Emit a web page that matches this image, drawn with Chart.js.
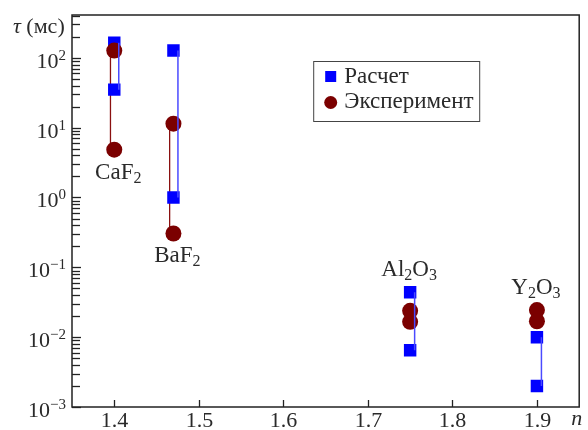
<!DOCTYPE html>
<html><head><meta charset="utf-8">
<script src="https://cdn.jsdelivr.net/npm/chart.js@4/dist/chart.umd.min.js"></script>
<style>html,body{margin:0;padding:0;background:#fff}#wrap{width:588px;height:430px;position:relative}</style>
</head><body><div id="wrap"><canvas id="c" width="588" height="430"></canvas></div>
<script>
// ---- data ----
const materials = [['Ca','F','2'], ['Ba','F','2'], ['Al','2','O','3'], ['Y','2','O','3']];
const materialNames = ['CaF2', 'BaF2', 'Al2O3', 'Y2O3'];
const refractiveIndex = [1.40, 1.47, 1.75, 1.90];
const calcHigh = [164, 127, 0.044, 0.010];
const calcLow = [35, 1.0, 0.0065, 0.002];
const expHigh = [127, 11.4, 0.0238, 0.0244];
const expLow = [4.84, 0.305, 0.0166, 0.0169];
const xTicks = [1.4, 1.5, 1.6, 1.7, 1.8, 1.9];
const yDecades = [-3, -2, -1, 0, 1, 2];
const seriesNames = ['Расчет', 'Эксперимент'];
const labelSide = ['below', 'below', 'above', 'above'];

const BLUE = '#0000ff', RED = '#7b0000';
const FONT = '"Liberation Serif", "DejaVu Serif", serif';
const TXT = '#2a2a2a';

const datasets = [];
// blue connector lines (top)
refractiveIndex.forEach((n, i) => datasets.push({
  type: 'line', data: [{x: n, y: calcHigh[i]}, {x: n, y: calcLow[i]}],
  borderColor: '#4a4aff', borderWidth: 1.5, pointRadius: 0, dx: 4.5, order: 0
}));
datasets.push({
  type: 'scatter', label: seriesNames[1],
  data: refractiveIndex.flatMap((n, i) => [{x: n, y: expHigh[i]}, {x: n, y: expLow[i]}]),
  pointStyle: 'circle', pointRadius: 8, backgroundColor: RED, borderColor: RED, borderWidth: 0, order: 1
});
datasets.push({
  type: 'scatter', label: seriesNames[0],
  data: refractiveIndex.flatMap((n, i) => [{x: n, y: calcHigh[i]}, {x: n, y: calcLow[i]}]),
  pointStyle: 'rect', pointRadius: 8.8, backgroundColor: BLUE, borderColor: BLUE, borderWidth: 0, order: 2
});
refractiveIndex.forEach((n, i) => datasets.push({
  type: 'line', data: [{x: n, y: expHigh[i]}, {x: n, y: expLow[i]}],
  borderColor: '#8a1010', borderWidth: 1.3, pointRadius: 0, dx: -3.8, order: 3
}));

function drawRich(ctx, parts, x, y, align, size, small, supOff) {
  small = small || Math.round(size * 0.68);
  supOff = supOff || 7;
  const w = parts.map(p => { ctx.font = (p.it ? 'italic ' : '') + (p.sub || p.sup ? small : size) + 'px ' + FONT; return ctx.measureText(p.t).width; });
  const total = w.reduce((a, b) => a + b, 0);
  let cx = align === 'center' ? x - total / 2 : align === 'right' ? x - total : x;
  ctx.textAlign = 'left'; ctx.textBaseline = 'alphabetic';
  parts.forEach((p, k) => {
    ctx.font = (p.it ? 'italic ' : '') + (p.sub || p.sup ? small : size) + 'px ' + FONT;
    ctx.fillText(p.t, cx, y + (p.sub ? 4 : p.sup ? -supOff : 0));
    cx += w[k];
  });
}

const decor = {
  id: 'decor',
  beforeDatasetDraw(chart, args) {
    const ds = chart.data.datasets[args.index];
    if (ds.dx) { chart.ctx.save(); chart.ctx.translate(ds.dx, 0); }
  },
  afterDatasetDraw(chart, args) {
    const ds = chart.data.datasets[args.index];
    if (ds.dx) chart.ctx.restore();
  },
  afterDraw(chart) {
    const {ctx, chartArea: a, scales: {x, y}} = chart;
    ctx.save();
    ctx.strokeStyle = '#222'; ctx.lineWidth = 1.5;
    ctx.strokeRect(a.left, a.top, a.right - a.left, a.bottom - a.top);
    ctx.lineWidth = 1.3;
    // x ticks
    ctx.fillStyle = TXT;
    xTicks.forEach(v => {
      const px = Math.round(x.getPixelForValue(v)) + 0.5;
      ctx.beginPath(); ctx.moveTo(px, a.bottom); ctx.lineTo(px, a.bottom - 7); ctx.stroke();
      ctx.font = '22px ' + FONT; ctx.textAlign = 'center'; ctx.textBaseline = 'alphabetic';
      ctx.fillText(v.toFixed(1), px, a.bottom + 20);
    });
    ctx.font = 'italic 22px ' + FONT; ctx.textAlign = 'left';
    ctx.fillText('n', a.right - 8, a.bottom + 18);
    // y ticks
    yDecades.forEach(d => {
      for (let m = 1; m <= 9; m++) {
        const v = m * Math.pow(10, d);
        if (v < y.min || v > y.max) continue;
        const py = Math.round(y.getPixelForValue(v)) + 0.5;
        ctx.beginPath(); ctx.moveTo(a.left, py); ctx.lineTo(a.left + (m === 1 ? 9 : 8), py); ctx.stroke();
      }
      const py = y.getPixelForValue(Math.pow(10, d));
      const e = d < 0 ? '\u2212' + (-d) : String(d);
      drawRich(ctx, [{t: '10'}, {t: e, sup: true}], 66, py + 10, 'right', 22, 15, 8);
    });
    // axis title
    drawRich(ctx, [{t: 'τ', it: true}, {t: ' (мс)'}], 13, 33, 'left', 22);
    // material labels
    refractiveIndex.forEach((n, i) => {
      const parts = materials[i].map((s, k) => ({t: s, sub: /^\d$/.test(s)}));
      const px = x.getPixelForValue(n);
      let py;
      if (labelSide[i] === 'below') {
        py = y.getPixelForValue(Math.min(calcLow[i], expLow[i])) + 29;
        drawRich(ctx, parts, px + 4, py, 'center', 23, 16);
      } else {
        py = y.getPixelForValue(Math.max(calcHigh[i], expHigh[i])) - 16;
        drawRich(ctx, parts, px - 1, py, 'center', 23, 16);
      }
    });
    // legend
    const lx = a.right - 266, ly = a.top + 46;
    ctx.lineWidth = 1; ctx.strokeStyle = '#444';
    ctx.strokeRect(lx + 0.5, ly + 0.5, 166, 60);
    ctx.fillStyle = BLUE; ctx.fillRect(lx + 12, ly + 10, 11, 11);
    ctx.fillStyle = RED; ctx.beginPath(); ctx.arc(lx + 17.5, ly + 41.5, 6.5, 0, Math.PI * 2); ctx.fill();
    ctx.fillStyle = TXT; ctx.font = '23px ' + FONT; ctx.textAlign = 'left';
    ctx.fillText(seriesNames[0], lx + 31, ly + 22);
    ctx.fillText(seriesNames[1], lx + 31, ly + 47);
    ctx.restore();
  }
};

new Chart(document.getElementById('c'), {
  type: 'scatter',
  data: {datasets},
  options: {
    responsive: false, animation: false, devicePixelRatio: 1,
    layout: {padding: {top: 15, right: 4, left: 0, bottom: 0}},
    plugins: {legend: {display: false}, tooltip: {enabled: false}},
    scales: {
      x: {type: 'linear', min: 1.35, max: 1.95,
          grid: {display: false}, border: {display: false}, ticks: {display: false},
          afterFit(s) { s.height = 23; }},
      y: {type: 'logarithmic', min: 0.001, max: 410,
          grid: {display: false}, border: {display: false}, ticks: {display: false},
          afterFit(s) { s.width = 72; }}
    }
  },
  plugins: [decor]
});
</script></body></html>
